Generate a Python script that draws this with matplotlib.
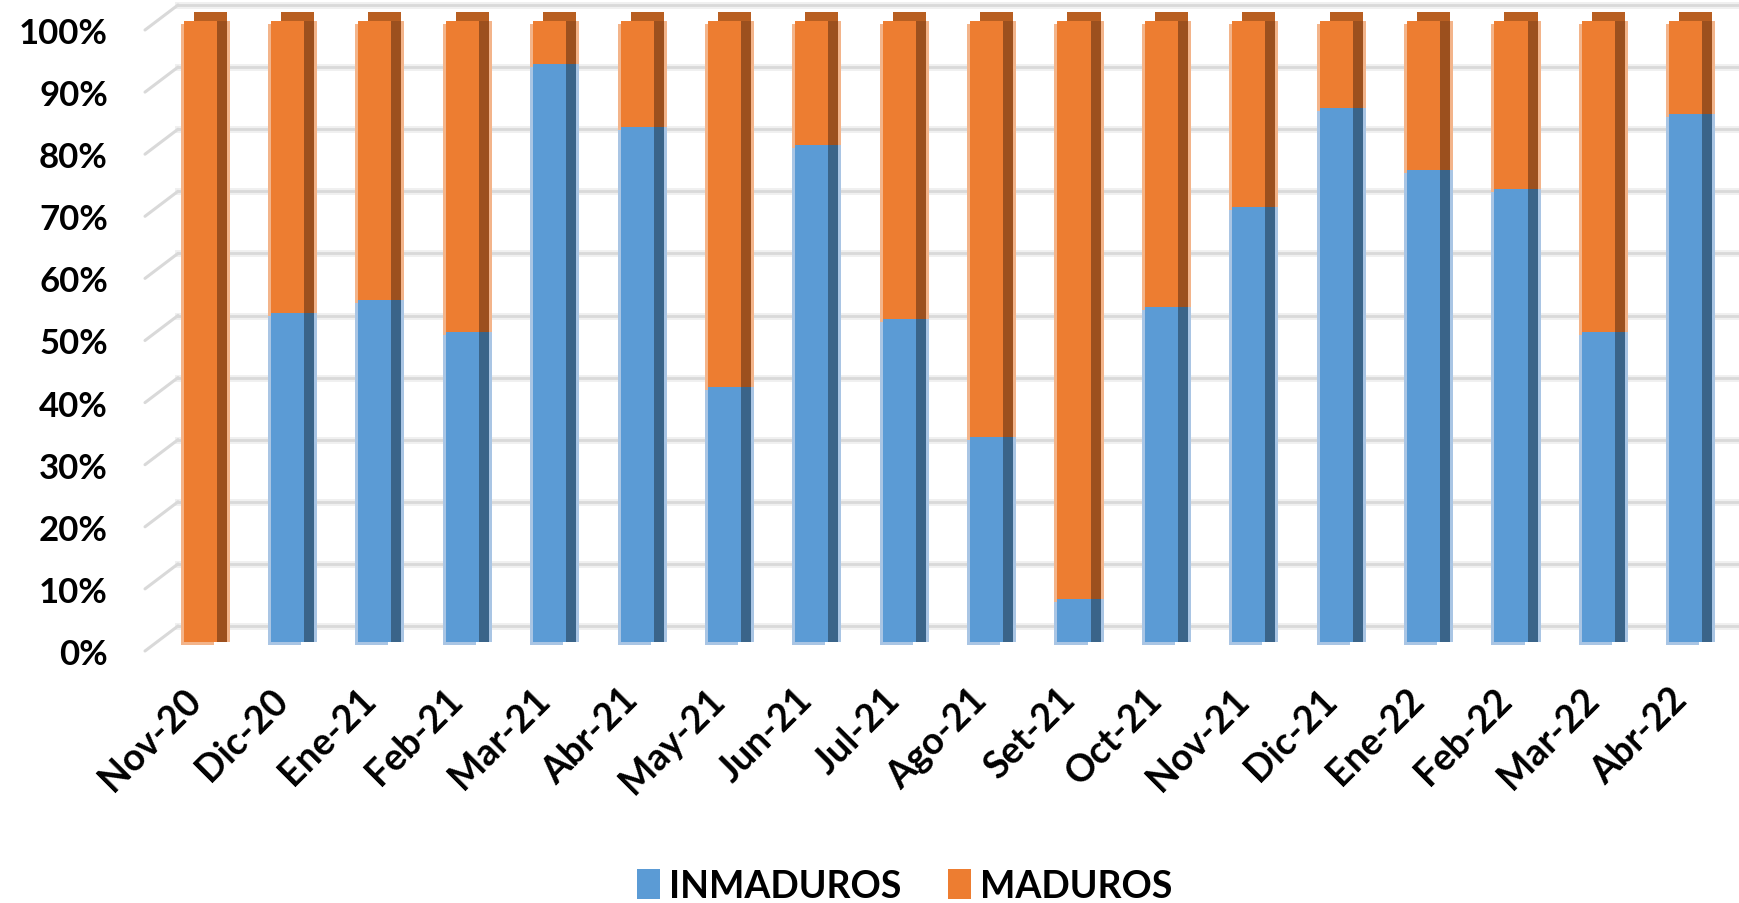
import numpy as np
import matplotlib
matplotlib.use('Agg')
import matplotlib.pyplot as plt
from matplotlib.transforms import ScaledTranslation, blended_transform_factory

plt.rcParams['font.family'] = ['Lato', 'DejaVu Sans']

months = ['Nov-20', 'Dic-20', 'Ene-21', 'Feb-21', 'Mar-21', 'Abr-21', 'May-21',
          'Jun-21', 'Jul-21', 'Ago-21', 'Set-21', 'Oct-21', 'Nov-21', 'Dic-21',
          'Ene-22', 'Feb-22', 'Mar-22', 'Abr-22']
inmaduros = [0, 53, 55, 50, 93, 83, 41, 80, 52, 33, 7, 54, 70, 86, 76, 73, 50, 85]
maduros = [100, 47, 45, 50, 7, 17, 59, 20, 48, 67, 93, 46, 30, 14, 24, 27, 50, 15]
y_ticks = [0, 10, 20, 30, 40, 50, 60, 70, 80, 90, 100]
y_labels = [f'{t}%' for t in y_ticks]

# colours: front, side, top, light fringe
blue = {'front': '#5b9bd5', 'side': '#3a6489', 'light': '#a9c5e4'}
orange = {'front': '#ed7d31', 'side': '#9c501e', 'top': '#b85f22', 'light': '#f3b48a'}

DPI = 100
fig = plt.figure(figsize=(17.4, 9.04), dpi=DPI)
ax = fig.add_axes([178 / 1740, (904 - 643) / 904, 1562 / 1740, 621 / 904])


def shift(dx, dy):
    # offset in pixels
    return ScaledTranslation(dx / DPI, dy / DPI, fig.dpi_scale_trans)


x = np.arange(len(months))
width = 0.378
inm = np.array(inmaduros)
mad = np.array(maduros)

# back wall gridlines + diagonal side lines
back = shift(0, 16)
side_trans = blended_transform_factory(ax.transAxes, ax.transData) + back
for t in y_ticks:
    ax.plot([0, 1], [t, t], color='#f0f0f0', lw=5, zorder=0,
            transform=ax.get_yaxis_transform() + back, clip_on=False)
    ax.plot([0, 1], [t, t], color='#d9d9d9', lw=2, zorder=0,
            transform=ax.get_yaxis_transform() + back, clip_on=False)
    ax.annotate('', xy=(0, t), xycoords=side_trans, xytext=(-33, -25),
                textcoords='offset pixels',
                arrowprops=dict(arrowstyle='-', color='#d9d9d9', lw=2.2,
                                shrinkA=0, shrinkB=0))

# pseudo 3d extrusion (side, top and light edges)
layers = [
    (inm, 0, blue['light'], (13, 0), 1),
    (mad, inm, orange['light'], (13, 0), 1),
    (mad, inm, orange['top'], (10, 9), 2),
    (inm, 0, blue['side'], (10, 0), 3),
    (mad, inm, orange['side'], (10, 0), 3),
    (inm, 0, blue['light'], (-3, -3), 4),
    (mad, inm, orange['light'], (-3, -3), 4),
]
for h, b, c, (dx, dy), z in layers:
    ax.bar(x, h, width, bottom=b, color=c, transform=ax.transData + shift(dx, dy),
           zorder=z, clip_on=False)

b1 = ax.bar(x, inm, width, color=blue['front'], zorder=5, label='INMADUROS', clip_on=False)
b2 = ax.bar(x, mad, width, bottom=inm, color=orange['front'], zorder=5, label='MADUROS',
            clip_on=False)

ax.set_xlim(-0.252, 17.62)
ax.set_ylim(0, 100)
for s in ax.spines.values():
    s.set_visible(False)

ax.set_yticks(y_ticks, y_labels, fontsize=25, fontweight='bold')
ax.tick_params(axis='y', length=0, pad=0)
for lab in ax.get_yticklabels():
    lab.set_transform(lab.get_transform() + shift(-70, -9))

ax.set_xticks(x, months, rotation=45, ha='right', va='top', rotation_mode='anchor',
              fontsize=27, fontweight='bold')
ax.tick_params(axis='x', length=0, pad=22)
for lab in ax.get_xticklabels():
    lab.set_transform(lab.get_transform() + shift(-17, -9))

fig.legend(handles=[b1, b2], labels=['INMADUROS', 'MADUROS'], loc='lower center',
           bbox_to_anchor=(0.52, -0.037), ncol=2, frameon=False,
           prop=dict(weight='bold', size=27), handlelength=0.6, handleheight=0.85,
           handletextpad=0.25, columnspacing=1.25)

fig.savefig('out.png', dpi=DPI)
